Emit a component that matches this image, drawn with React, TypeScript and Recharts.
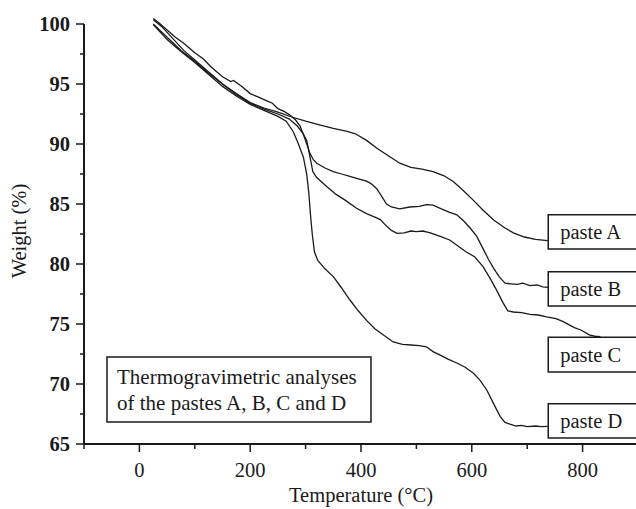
// TGA curves of the four pastes, weight loss vs temperature.
// Plain black lines, left/bottom axes only, boxed labels at the line ends.

import { LineChart, Line, XAxis, YAxis, ReferenceArea, ReferenceLine } from 'recharts';

type Pt = [number, number]; // [temperature °C, weight %]

const pasteA: Pt[] = [
  [25, 100.0], [50, 98.9], [75, 97.8], [100, 96.9], [125, 95.9], [150, 95.0],
  [175, 94.2], [200, 93.45], [225, 93.0], [250, 92.65], [275, 92.25], [300, 91.9],
  [325, 91.6], [350, 91.3], [375, 91.05], [390, 90.85], [410, 90.3], [430, 89.6],
  [450, 89.0], [470, 88.4], [490, 88.05], [510, 87.9], [530, 87.7], [550, 87.35],
  [567, 86.85], [585, 86.1], [603, 85.3], [620, 84.5], [640, 83.65], [660, 83.0],
  [675, 82.6], [695, 82.25], [715, 82.05], [737, 81.95],
];

const pasteB: Pt[] = [
  [25, 100.45], [35, 100.1], [50, 99.5], [65, 98.9], [80, 98.4], [100, 97.6],
  [115, 97.1], [130, 96.4], [150, 95.6], [165, 95.2], [170, 95.3], [185, 94.8],
  [200, 94.2], [215, 93.9], [230, 93.6], [240, 93.4], [250, 92.95], [262, 92.7],
  [272, 92.4], [282, 92.0], [290, 91.5], [296, 90.8], [302, 90.0], [308, 89.2],
  [314, 88.7], [320, 88.4], [335, 88.0], [350, 87.7], [365, 87.5], [380, 87.3],
  [395, 87.1], [410, 86.9], [418, 86.7], [428, 86.3], [438, 85.6], [446, 85.0],
  [455, 84.75], [470, 84.6], [488, 84.75], [505, 84.8], [518, 84.95], [530, 84.9],
  [545, 84.6], [560, 84.3], [573, 84.1], [585, 83.6], [597, 83.0], [609, 82.3],
  [620, 81.3], [630, 80.4], [640, 79.6], [650, 78.9], [660, 78.4], [670, 78.35],
  [682, 78.3], [692, 78.4], [705, 78.2], [718, 78.25], [728, 78.1], [738, 78.05],
];

const pasteC: Pt[] = [
  [25, 100.35], [40, 99.8], [60, 98.8], [80, 97.8], [100, 97.0], [125, 96.0],
  [150, 95.0], [175, 94.1], [200, 93.4], [225, 92.9], [250, 92.5], [270, 92.1],
  [285, 91.5], [295, 90.9], [302, 90.3], [308, 88.9], [313, 87.7], [320, 87.2],
  [338, 86.45], [355, 85.8], [372, 85.3], [392, 84.65], [410, 84.2], [425, 83.9],
  [435, 83.7], [445, 83.2], [455, 82.8], [465, 82.55], [478, 82.6], [490, 82.75],
  [500, 82.7], [512, 82.75], [525, 82.6], [543, 82.3], [560, 82.0], [575, 81.5],
  [590, 81.0], [605, 80.6], [620, 79.8], [633, 78.8], [645, 77.8], [656, 76.8],
  [665, 76.1], [675, 76.0], [690, 75.95], [705, 75.8], [720, 75.75], [735, 75.6],
  [752, 75.45], [765, 75.2], [775, 74.95], [785, 74.7], [797, 74.5], [812, 74.1],
  [822, 73.98], [832, 73.95],
];

const pasteD: Pt[] = [
  [25, 99.95], [50, 98.7], [75, 97.7], [100, 96.8], [125, 95.8], [150, 94.8],
  [175, 94.0], [200, 93.3], [225, 92.8], [250, 92.3], [265, 91.9], [278, 91.0],
  [287, 90.0], [296, 88.9], [302, 87.5], [306, 85.8], [309, 84.0], [312, 82.5],
  [316, 81.0], [322, 80.3], [335, 79.6], [350, 78.95], [365, 78.0], [380, 77.0],
  [395, 76.1], [410, 75.3], [425, 74.6], [440, 74.1], [458, 73.5], [475, 73.3],
  [490, 73.25], [505, 73.2], [518, 73.1], [530, 72.7], [543, 72.4], [558, 72.05],
  [573, 71.75], [588, 71.4], [603, 70.9], [615, 70.3], [627, 69.5], [640, 68.3],
  [651, 67.3], [660, 66.8], [669, 66.65], [680, 66.5], [690, 66.55], [700, 66.45],
  [715, 66.5], [725, 66.45], [737, 66.47],
];

const seriesNames = ['paste A', 'paste B', 'paste C', 'paste D'];
const xTicks = [-100, 0, 100, 200, 300, 400, 500, 600, 700, 800];
const yTicks = [65, 67.5, 70, 72.5, 75, 77.5, 80, 82.5, 85, 87.5, 90, 92.5, 95, 97.5, 100];
const noteLines = ['Thermogravimetric analyses', 'of the pastes A, B, C and D'];

const FONT = '"Liberation Serif", "Times New Roman", serif';
const INK = '#1a1a1a';

// label boxes at the right end of each curve (weight range of each box)
const boxX1 = 738;
const boxRanges: Array<[number, number]> = [
  [81.25, 84.1], [76.5, 79.35], [71.0, 73.9], [65.5, 68.35],
];

const toRows = (pts: Pt[]) => pts.map(([t, w]) => ({ t, w }));

function XTick(props: any) {
  const { x, y, payload } = props;
  const v = payload.value as number;
  const major = v % 200 === 0;
  return (
    <g>
      <line x1={x} x2={x} y1={y} y2={y + (major ? 8 : 5)} stroke={INK} strokeWidth={1.5} />
      {major && (
        <text x={x} y={y + 33} textAnchor="middle" fontFamily={FONT} fontSize={20.5} fill={INK}>
          {v}
        </text>
      )}
    </g>
  );
}

function YTick(props: any) {
  const { x, y, payload } = props;
  const v = payload.value as number;
  const major = v % 5 === 0;
  return (
    <g>
      <line x1={x - (major ? 8 : 4)} x2={x} y1={y} y2={y} stroke={INK} strokeWidth={1.5} />
      {major && (
        <text x={x - 14} y={y + 6.5} textAnchor="end" fontFamily={FONT} fontSize={20.5}
          fontWeight="bold" fill={INK}>
          {v}
        </text>
      )}
    </g>
  );
}

function NoteLabel(props: any) {
  const { x, y } = props.viewBox;
  return (
    <g>
      {noteLines.map((line, i) => (
        <text key={i} x={x + 10} y={y + 27 + i * 26} fontFamily={FONT} fontSize={21} fill={INK}>
          {line}
        </text>
      ))}
    </g>
  );
}

export default function App() {
  const series = [pasteA, pasteB, pasteC, pasteD];
  return (
    <div style={{ position: 'absolute', left: 0, top: 0, width: 636, height: 509, overflow: 'hidden', background: '#fff' }}>
      <LineChart width={640} height={509} margin={{ top: 18, right: 2, bottom: 0, left: 0 }}>
        <XAxis
          type="number"
          dataKey="t"
          domain={[-100, 900]}
          ticks={xTicks}
          interval={0}
          height={65}
          tickSize={0}
          tickMargin={0}
          tickLine={false}
          tick={(p: any) => <XTick {...p} />}
          axisLine={{ stroke: INK, strokeWidth: 2 }}
          label={{ value: 'Temperature (°C)', position: 'insideBottom', offset: 7, fill: INK, fontSize: 20.5, fontFamily: FONT }}
        />
        <YAxis
          type="number"
          domain={[65, 100.5]}
          ticks={yTicks}
          interval={0}
          width={84}
          tickSize={0}
          tickMargin={0}
          tickLine={false}
          tick={(p: any) => <YTick {...p} />}
          axisLine={false}
          label={{ value: 'Weight (%)', angle: -90, position: 'insideLeft', offset: 19, fill: INK, fontSize: 20.5, fontFamily: FONT, style: { textAnchor: 'middle' } }}
        />
        {/* y axis line stops at the 100 tick */}
        <ReferenceLine
          segment={[{ x: -100, y: 65 }, { x: -100, y: 100 }]}
          stroke={INK}
          strokeWidth={2}
        />
        <ReferenceArea
          x1={-58.5}
          x2={418}
          y1={66.83}
          y2={72.25}
          fill="#fff"
          fillOpacity={1}
          stroke={INK}
          strokeWidth={1.5}
          label={(p: any) => <NoteLabel {...p} />}
        />
        {series.map((pts, i) => (
          <Line
            key={seriesNames[i]}
            data={toRows(pts)}
            dataKey="w"
            name={seriesNames[i]}
            type="linear"
            stroke={INK}
            strokeWidth={1.3}
            dot={false}
            activeDot={false}
            isAnimationActive={false}
          />
        ))}
        {seriesNames.map((name, i) => (
          <ReferenceArea
            key={name}
            x1={boxX1}
            x2={900}
            y1={boxRanges[i][0]}
            y2={boxRanges[i][1]}
            fill="#fff"
            fillOpacity={1}
            stroke={INK}
            strokeWidth={1.5}
            label={{ value: name, position: 'insideLeft', offset: 12, fill: INK, fontSize: 20.5, fontFamily: FONT }}
          />
        ))}
      </LineChart>
    </div>
  );
}
